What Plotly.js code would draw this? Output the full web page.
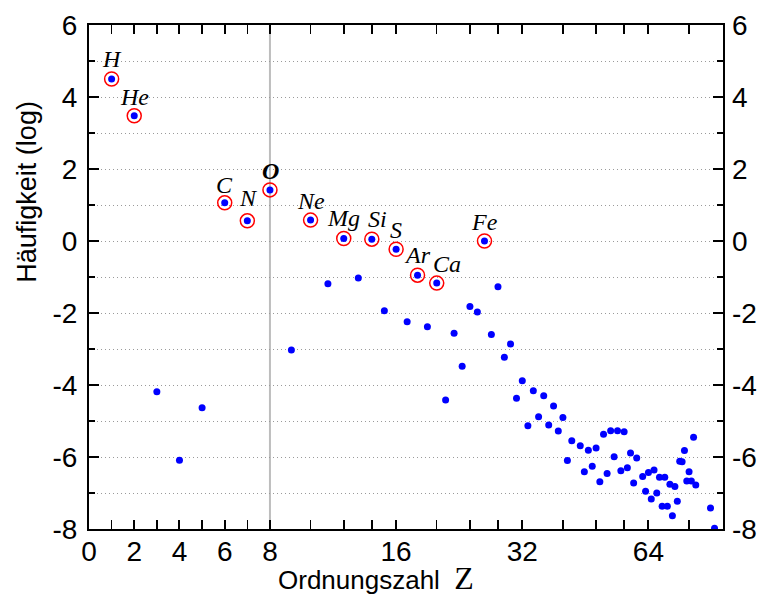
<!DOCTYPE html>
<html>
<head>
<meta charset="utf-8">
<script src="https://cdn.plot.ly/plotly-3.0.1.min.js"></script>
<style>html,body{margin:0;padding:0;background:#fff;}</style>
</head>
<body>
<div id="chart" style="width:757px;height:596px;"></div>
<script>
// ---- data ----
const atomicNumber = [1,2,3,4,5,6,7,8,9,10,11,12,13,14,15,16,17,18,19,20,21,22,23,24,25,26,27,28,29,30,31,32,33,34,35,36,37,38,39,40,41,42,
  44,45,46,47,48,49,50,51,52,53,54,55,56,57,58,59,60,
  62,63,64,65,66,67,68,69,70,71,72,73,74,75,76,77,78,79,80,81,82,83,
  90,92];
const logAbundance = [4.50,3.48,-4.19,-6.09,-4.63,1.06,0.56,1.42,-3.03,0.58,-1.19,0.07,-1.03,0.05,-1.94,-0.23,-2.24,-0.95,-2.38,-1.17,-4.42,-2.56,-3.48,-1.82,-1.97,0.00,-2.60,-1.27,-3.23,-2.86,-4.37,-3.88,-5.13,-4.16,-4.88,-4.30,-5.11,-4.58,-5.28,-4.90,-6.10,-5.55,
  -5.69,-6.41,-5.81,-6.26,-5.75,-6.69,-5.37,-6.46,-5.27,-5.99,-5.27,-6.38,-5.30,-6.30,-5.89,-6.72,-6.03,
  -6.54,-6.95,-6.43,-7.17,-6.36,-7.00,-6.56,-7.37,-6.56,-7.37,-6.76,-7.63,-6.82,-7.23,-6.12,-6.13,-5.82,-6.67,-6.41,-6.67,-5.45,-6.78,
  -7.42,-7.98];
const labelNames = ['H','He','C','N','O','Ne','Mg','Si','S','Ar','Ca','Fe'];
const labelZ     = [1,2,6,7,8,10,12,14,16,18,20,26];
const xMajorTicks = [0,2,4,6,8,16,32,64];
const xMinorTicks = [1,3,5,7,10,12,14,20,24,28,40,48,56,80];
const yTicks = [-8,-6,-4,-2,0,2,4,6];
const scaleBreakZ = 8;

// ---- axis scale: linear up to Z=8, logarithmic beyond ----
const LOG_UNITS_PER_DOUBLING = 5.578;
function toAxis(z){
  return z <= scaleBreakZ ? z : scaleBreakZ + LOG_UNITS_PER_DOUBLING*Math.log2(z/scaleBreakZ);
}
function abundanceOf(z){ return logAbundance[atomicNumber.indexOf(z)]; }

// label offsets in pixels (style only)
const labelShift = {H:[0,20],He:[0,19],C:[0,18],N:[1,23],O:[1,19],Ne:[0,19],Mg:[0,20],Si:[6,20],S:[0,19],Ar:[0,20],Ca:[10,19],Fe:[0,19]};

const SANS = 'Liberation Sans, Arial, Helvetica, sans-serif';
const SERIF = 'Liberation Serif, Times New Roman, serif';

const traces = [
  {x: labelZ.map(toAxis), y: labelZ.map(abundanceOf), mode:'markers', type:'scatter', hoverinfo:'skip',
   marker:{symbol:'circle-open', size:14, color:'#ff0000', line:{width:1.5, color:'#ff0000'}}},
  {x: atomicNumber.map(toAxis), y: logAbundance, mode:'markers', type:'scatter',
   marker:{symbol:'circle', size:7, color:'#0000ff'}},
  {x: [toAxis(atomicNumber[0])], y:[logAbundance[0]], yaxis:'y2', mode:'markers', type:'scatter',
   hoverinfo:'skip', marker:{opacity:0}}
];

const annotations = labelNames.map((n,i)=>({
  x: toAxis(labelZ[i]), y: abundanceOf(labelZ[i]), xref:'x', yref:'y', showarrow:false,
  xshift: labelShift[n][0], yshift: labelShift[n][1],
  text: n==='O' ? '<b><i>'+n+'</i></b>' : '<i>'+n+'</i>',
  font:{family:SERIF, size:24, color:'black'}
}));
annotations.push({
  xref:'paper', yref:'paper', x:0.453, y:-0.098, xanchor:'center', yanchor:'middle', showarrow:false,
  text:'Ordnungszahl&#160;&#160;<span style="font-family:Liberation Serif, Times New Roman, serif;font-size:32px">Z</span>',
  font:{family:SANS, size:26, color:'black'}
});
annotations.push({
  xref:'paper', yref:'paper', x:-0.098, y:0.669, xanchor:'center', yanchor:'middle', showarrow:false,
  textangle:-90, text:'Häufigkeit (log)', font:{family:SANS, size:27, color:'black'}
});

const layout = {
  width:757, height:596,
  margin:{l:89, r:34, t:25, b:67, pad:0},
  paper_bgcolor:'#ffffff', plot_bgcolor:'#ffffff',
  showlegend:false,
  font:{family:SANS, size:28, color:'black'},
  xaxis:{
    range:[0, 28.03], tickmode:'array', tickvals:xMajorTicks.map(toAxis), ticktext:xMajorTicks.map(String),
    ticks:'inside', ticklen:9, tickwidth:2, tickcolor:'black',
    showline:true, linewidth:2, linecolor:'black', mirror:'allticks',
    showgrid:false, zeroline:false, ticklabelstandoff:-4,
    tickfont:{family:SANS, size:28, color:'black'},
    minor:{tickmode:'array', tickvals:xMinorTicks.map(toAxis), ticks:'inside', ticklen:5, tickwidth:1.5, tickcolor:'black', showgrid:false}
  },
  yaxis:{
    range:[-8,6], tickmode:'array', tickvals:yTicks, ticktext:yTicks.map(String),
    ticks:'inside', ticklen:10, tickwidth:2, tickcolor:'black',
    showline:true, linewidth:2, linecolor:'black', mirror:'allticks',
    showgrid:true, gridcolor:'#9a9a9a', gridwidth:1, griddash:'1px,3px', zeroline:false,
    ticklabelstandoff:4,
    tickfont:{family:SANS, size:28, color:'black'},
    minor:{tickmode:'linear', tick0:-8, dtick:1, ticks:'inside', ticklen:6, tickwidth:1.5, tickcolor:'black',
           showgrid:true, gridcolor:'#9a9a9a', gridwidth:1, griddash:'1px,3px'}
  },
  yaxis2:{
    overlaying:'y', side:'right', range:[-8,6], tickmode:'array', tickvals:yTicks, ticktext:yTicks.map(String),
    ticks:'', showline:false, showgrid:false, zeroline:false, ticklabelstandoff:8,
    tickfont:{family:SANS, size:28, color:'black'}
  },
  shapes:[{type:'line', xref:'x', yref:'paper', x0:toAxis(scaleBreakZ), x1:toAxis(scaleBreakZ), y0:0, y1:1,
           line:{color:'#bdbdbd', width:2}, layer:'below'}],
  annotations: annotations
};

Plotly.newPlot('chart', traces, layout, {displayModeBar:false, staticPlot:true});
</script>
</body>
</html>
